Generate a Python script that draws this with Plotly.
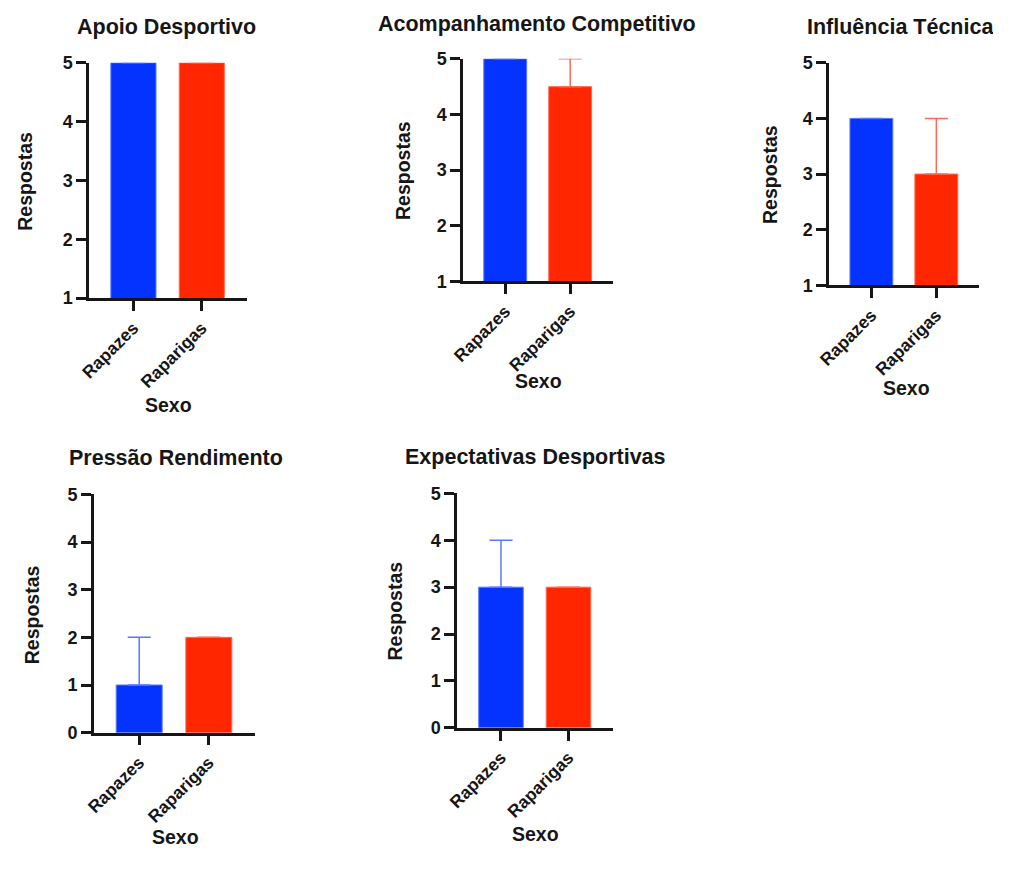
import plotly.graph_objects as go

# Page is 1009x870; the body keeps an 8px margin around the figure div.
PAGE_W, PAGE_H = 1009, 870
PAD = 8
W, H = PAGE_W - 2 * PAD, PAGE_H - 2 * PAD

categories = ["Rapazes", "Raparigas"]

titles = [
    "Apoio Desportivo",
    "Acompanhamento Competitivo",
    "Influência Técnica",
    "Pressão Rendimento",
    "Expectativas Desportivas",
]

apoio_mean = [5, 5]
apoio_err = [0, 0]
acomp_mean = [5, 4.5]
acomp_err = [0, 0.5]
influencia_mean = [4, 3]
influencia_err = [0, 1]
pressao_mean = [1, 2]
pressao_err = [1, 0]
expect_mean = [3, 3]
expect_err = [1, 0]

y_ranges = [[1, 5], [1, 5], [1, 5], [0, 5], [0, 5]]
y_ticks = [[1, 2, 3, 4, 5], [1, 2, 3, 4, 5], [1, 2, 3, 4, 5],
           [0, 1, 2, 3, 4, 5], [0, 1, 2, 3, 4, 5]]

means = [apoio_mean, acomp_mean, influencia_mean, pressao_mean, expect_mean]
errs = [apoio_err, acomp_err, influencia_err, pressao_err, expect_err]

# plot-area boxes in page pixels: (left, right, top, bottom)
boxes = [
    (85, 245, 62, 303),
    (464, 616, 58, 286),
    (835, 987, 62, 290),
    (90, 253, 504, 748),
    (458, 616, 503, 743),
]
# title, y-title and x-title centres in page pixels
title_pos = [(164, 25), (539, 22), (907, 25), (173, 467), (537, 466)]
ytitle_pos = [(20, 183), (403, 172), (775, 176), (27, 627), (395, 623)]
xtitle_pos = [(166, 412), (540, 388), (913, 395), (173, 855), (537, 852)]


def px(x):
    return (x - PAD) / W


def py(y):
    return 1 - (y - PAD) / H


bar_colors = ["#0433ff", "#ff2600"]
edge_colors = ["#5a78ff", "#ff6a55"]
err_colors = ["#5a78ff", "#ff6a55"]

FONT = "Liberation Sans, Arial, Helvetica, sans-serif"
INK = "#161616"

fig = go.Figure()
annotations = []

for i in range(5):
    l, r, t, b = boxes[i]
    xa = "x" if i == 0 else f"x{i+1}"
    ya = "y" if i == 0 else f"y{i+1}"
    for j, cat in enumerate(categories):
        fig.add_trace(go.Bar(
            x=[cat], y=[means[i][j]],
            xaxis=xa, yaxis=ya,
            width=0.66,
            marker=dict(color=bar_colors[j],
                        line=dict(color=edge_colors[j], width=1)),
            error_y=dict(type="data", symmetric=False,
                         array=[errs[i][j]], arrayminus=[0],
                         color=err_colors[j], thickness=1.5, width=11.5),
            showlegend=False,
        ))
    axis_common = dict(
        showline=True, linecolor=INK, linewidth=2.5,
        ticks="outside", tickcolor=INK, tickwidth=2.5, ticklen=10,
        showgrid=False, zeroline=False, mirror=False,
    )
    fig.layout[("xaxis" if i == 0 else f"xaxis{i+1}")] = dict(
        domain=[px(l), px(r)], anchor=ya,
        type="category", categoryorder="array", categoryarray=categories,
        range=[-0.65, 1.66], tickangle=-45,
        tickfont=dict(family=FONT, size=17.5, color=INK, weight="bold"),
        **axis_common,
    )
    fig.layout[("yaxis" if i == 0 else f"yaxis{i+1}")] = dict(
        domain=[py(b), py(t)], anchor=xa,
        range=y_ranges[i], tickvals=y_ticks[i],
        tickfont=dict(family=FONT, size=18, color=INK, weight="bold"),
        **axis_common,
    )
    tx, ty = title_pos[i]
    annotations.append(dict(
        text=titles[i], x=px(tx), y=py(ty), xref="paper", yref="paper",
        showarrow=False, xanchor="center", yanchor="middle",
        font=dict(family=FONT, size=21.5, color=INK, weight="bold"),
    ))
    yx, yy = ytitle_pos[i]
    annotations.append(dict(
        text="Respostas", x=px(yx), y=py(yy), xref="paper", yref="paper",
        showarrow=False, xanchor="center", yanchor="middle", textangle=-90,
        font=dict(family=FONT, size=19.5, color=INK, weight="bold"),
    ))
    sx, sy = xtitle_pos[i]
    annotations.append(dict(
        text="Sexo", x=px(sx), y=py(sy), xref="paper", yref="paper",
        showarrow=False, xanchor="center", yanchor="middle",
        font=dict(family=FONT, size=19.5, color=INK, weight="bold"),
    ))

fig.update_layout(
    width=W, height=H,
    margin=dict(l=0, r=0, t=0, b=0),
    paper_bgcolor="white", plot_bgcolor="white",
    annotations=annotations,
)

fig.write_html("out.html")
